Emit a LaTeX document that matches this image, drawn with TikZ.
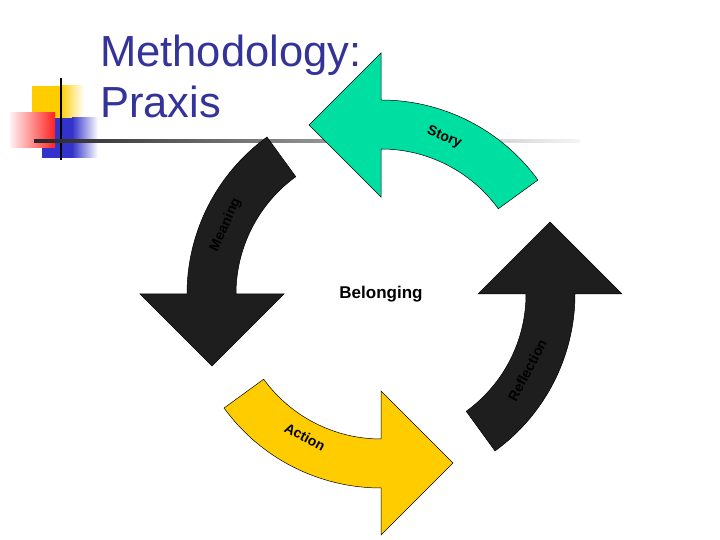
\documentclass[tikz,border=0pt]{standalone}
\usepackage{fontspec}
\setmainfont{Liberation Sans}
\usetikzlibrary{positioning}
\definecolor{titleblue}{HTML}{333399}
\definecolor{storygreen}{HTML}{00DFA2}
\definecolor{actionyellow}{HTML}{FFCC00}
\definecolor{darkarrow}{HTML}{1E1E1E}
\definecolor{logoblue}{HTML}{3333CC}
\definecolor{logored}{HTML}{FF2222}

\begin{document}
\begin{tikzpicture}[x=1pt,y=1pt,
  cyclearrow/.style={draw=black,line width=0.5pt},
  arclabel/.style={font=\bfseries\fontsize{14}{14}\selectfont,inner sep=0pt},
  titletext/.style={anchor=base west,inner sep=0pt,text=titleblue,font=\fontsize{43.5}{43.5}\selectfont}]
\useasboundingbox (0,0) rectangle (720,540);
% logo squares
\fill[actionyellow] (32,422) rectangle (60,454);
\shade[left color=actionyellow,right color=white] (60,422) rectangle (84,454);
\fill[logoblue] (42,382) rectangle (72,422);
\shade[left color=logoblue,right color=white] (72,382) rectangle (98,422);
\shade[left color=logored!6,right color=logored] (10,392) rectangle (55,427);
\draw[line width=2.5pt] (61,462) -- (61,380);
\shade[left color=black!85,middle color=black!45,right color=black!4] (34,397.8) rectangle (580,400.2);
% title
\node[titletext] (title) at (100,473) {Methodology:};
\node[titletext] (praxis) at (100,422) {Praxis};
% cycle of arrows
\coordinate (hub) at (381,246);
\foreach \rot/\col in {0/storygreen,90/darkarrow,180/actionyellow,270/darkarrow}{
  \begin{scope}[shift={(hub)},rotate=\rot]
    \filldraw[cyclearrow,fill=\col] (36:194) arc[start angle=36,end angle=90,radius=194]
      -- (0,241) -- (-72,169) -- (0,97) -- (0,145)
      arc[start angle=90,end angle=36,radius=145] -- cycle;
  \end{scope}
}
\node[arclabel,rotate=-22] (story) at ([shift={(68:169)}]hub) {Story};
\node[arclabel,rotate=66] (meaning) at ([shift={(156:170)}]hub) {Meaning};
\node[arclabel,rotate=-28] (action) at ([shift={(242:162)}]hub) {Action};
\node[arclabel,rotate=62.5] (reflection) at ([shift={(-27.5:165)}]hub) {Reflection};
\node[font=\bfseries\fontsize{17}{17}\selectfont] (belonging) at (hub) {Belonging};
\end{tikzpicture}
\end{document}
